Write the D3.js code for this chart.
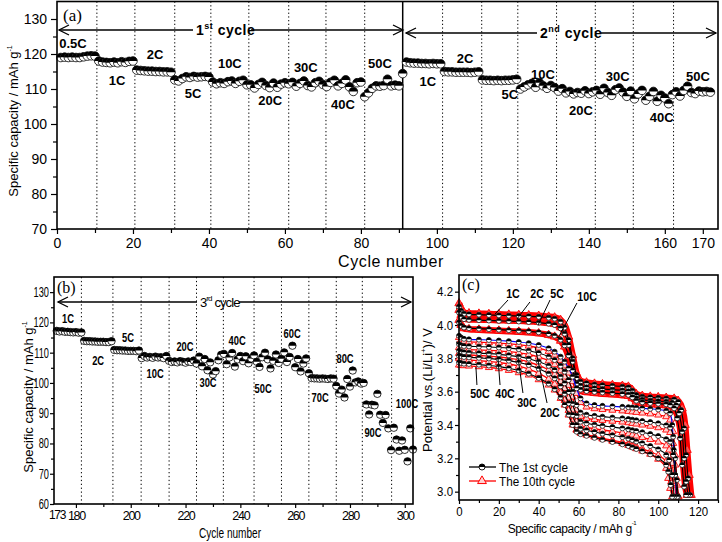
<!DOCTYPE html>
<html><head><meta charset="utf-8">
<script src="https://cdn.jsdelivr.net/npm/d3@7"></script>
<style>body{margin:0;background:#fff}svg{display:block}</style>
</head><body><svg width="722" height="542"></svg>
<script>
// ---------------- DATA ----------------
// Panel (a): capacity per cycle, 1st run (cycles 1..91) and 2nd run (cycles 92..172)
const capacityA1 = [
119.0,119.1,119.0,119.1,119.0,119.0,119.2,119.4,119.5,119.4,
118.0,117.7,117.6,117.5,117.7,117.5,117.8,117.6,117.9,118.0,
115.4,115.3,115.2,115.1,115.1,115.0,115.0,114.9,114.9,114.8,
112.6,112.3,113.0,113.5,113.3,113.6,113.4,113.5,113.6,113.4,
112.0,111.5,111.8,111.6,112.1,112.3,111.6,112.2,112.5,111.2,
111.2,110.3,111.3,111.9,111.0,110.4,111.7,110.5,111.4,111.8,
111.5,111.9,110.8,111.6,112.3,111.0,110.6,111.8,112.2,111.3,
110.7,111.9,112.5,110.9,111.6,112.6,110.6,109.3,111.8,112.0,
107.8,108.9,110.2,110.9,110.8,111.0,112.8,110.9,111.1,110.9,
114.4];
const capacityA2 = [
117.7,117.5,117.4,117.4,117.3,117.3,117.2,117.3,117.2,117.2,
115.0,114.9,114.9,114.8,114.8,114.8,114.8,114.7,114.8,114.9,
112.6,112.5,112.5,112.4,112.5,112.4,112.5,112.5,112.6,112.8,
110.0,110.6,111.2,111.6,110.5,111.8,110.9,110.2,111.0,110.4,
109.4,110.1,108.9,109.3,108.6,109.0,108.8,109.5,108.7,109.2,
109.6,108.5,110.2,109.0,108.2,109.8,110.3,109.1,107.9,109.4,
107.2,108.6,109.6,106.8,107.9,109.3,106.5,108.2,107.4,105.8,
108.4,109.2,108.0,109.6,110.8,109.0,108.7,109.4,109.2,109.3,109.1];
const startA1 = 1, startA2 = 92;
const ratesA = ["0.5C","1C","2C","5C","10C","20C","30C","40C","50C","1C","2C","5C","10C","20C","30C","40C","50C"];
const dividersA = [10.5,20.5,31,40.5,50.5,61,70.8,81,101.5,111.8,121.3,131.5,141.7,151.7,162.3];
const cycleBreakA = 91;
const xTicksA = [0,20,40,60,80,100,120,140,160,170];
const yTicksA = [70,80,90,100,110,120,130];

// Panel (b): cycles 173..303
const capacityB = [
117.2,117.0,117.1,116.9,116.9,116.8,116.7,116.8,116.6,116.7,
113.9,113.8,113.8,113.7,113.7,113.6,113.6,113.6,113.5,113.5,113.8,
110.9,110.8,110.8,110.7,110.7,110.6,110.6,110.6,110.5,110.7,
108.2,108.9,108.4,108.6,108.3,108.7,108.4,108.5,108.2,108.9,
107.3,106.9,107.1,106.8,107.2,107.0,106.7,107.1,106.9,107.4,
106.4,108.7,105.5,107.9,104.2,106.8,102.8,103.9,107.5,109.3,
109.6,106.2,108.4,109.9,105.4,107.8,108.9,107.2,108.8,106.5,108.1,
109.1,107.0,105.3,108.5,110.0,107.8,104.8,107.3,109.4,106.6,
108.0,110.1,106.9,108.6,112.3,105.2,107.9,103.8,106.4,108.1,
103.2,101.6,101.5,101.5,101.4,101.5,101.4,101.3,101.5,101.4,
99.0,96.5,97.8,95.2,101.3,98.8,104.1,100.2,100.5,99.8,
100.0,92.9,89.6,92.8,92.6,96.4,89.5,86.8,89.4,85.0,
77.8,85.2,81.3,77.6,81.0,77.9,74.1,85.0,78.0];
const startB = 173;
const ratesB = ["1C","2C","5C","10C","20C","30C","40C","50C","60C","70C","80C","90C","100C"];
const dividersB = [182,193.5,203.8,214,224,233.8,245,255,265,275,284.5,295.2];
const xTicksB = [180,200,220,240,260,280,300];
const yTicksB = [60,70,80,90,100,110,120,130];

// Panel (c): discharge curves, capacity grid + voltages (1st and 10th cycle), plus end tails [cap, V]
const capGrid = [0,1,2.5,5,10,15,20,25,30,35,40,45,48,51,53,55,57,59,61,64,68,72,77,82,85,87,89,92,96,100,104];
const v1C_1  = [4.11,4.085,4.068,4.064,4.062,4.060,4.058,4.056,4.054,4.052,4.049,4.044,4.038,4.020,3.985,3.910,3.800,3.700,3.660,3.650,3.643,3.639,3.635,3.630,3.625,3.605,3.580,3.570,3.566,3.563,3.559];
const t1C_1  = [[108,3.553],[110,3.538],[111.5,3.49],[113,3.38],[114,3.22],[115,3.08],[116,2.98]];
const v1C_10 = [4.13,4.10,4.075,4.070,4.068,4.066,4.064,4.062,4.060,4.058,4.055,4.050,4.045,4.030,4.000,3.930,3.820,3.710,3.665,3.655,3.648,3.644,3.640,3.635,3.630,3.610,3.585,3.575,3.570,3.567,3.563];
const t1C_10 = [[108,3.558],[110,3.545],[112,3.50],[113.5,3.40],[114.5,3.25],[115.5,3.10],[116.5,2.98]];
const v2C_1  = [4.075,4.05,4.035,4.031,4.029,4.027,4.025,4.023,4.021,4.018,4.014,4.008,4.000,3.980,3.948,3.880,3.780,3.682,3.636,3.626,3.620,3.616,3.612,3.607,3.602,3.584,3.561,3.551,3.546,3.543,3.539];
const t2C_1  = [[107,3.533],[109,3.518],[110.5,3.47],[112,3.36],[113,3.20],[114,3.06],[115,2.98]];
const v2C_10 = [4.09,4.06,4.04,4.035,4.033,4.031,4.029,4.027,4.025,4.022,4.018,4.012,4.005,3.985,3.955,3.890,3.790,3.690,3.640,3.630,3.624,3.620,3.616,3.611,3.606,3.588,3.565,3.555,3.550,3.547,3.543];
const t2C_10 = [[107,3.538],[109,3.525],[111,3.48],[112.5,3.37],[113.5,3.21],[114.5,3.07],[115.5,2.98]];
const v5C_1  = [4.015,3.995,3.985,3.981,3.978,3.975,3.972,3.969,3.966,3.962,3.956,3.946,3.936,3.912,3.878,3.818,3.728,3.648,3.612,3.604,3.599,3.595,3.591,3.586,3.581,3.566,3.546,3.536,3.532,3.528,3.524];
const t5C_1  = [[106,3.518],[108,3.50],[109.5,3.44],[111,3.32],[112,3.16],[113,3.03],[114,2.98]];
const v5C_10 = [4.03,4.00,3.98,3.975,3.972,3.969,3.966,3.963,3.960,3.956,3.950,3.940,3.930,3.905,3.870,3.810,3.720,3.640,3.605,3.597,3.592,3.588,3.584,3.579,3.574,3.560,3.540,3.530,3.526,3.522,3.518];
const t5C_10 = [[106,3.512],[108,3.495],[110,3.44],[111.5,3.33],[112.5,3.17],[113.5,3.04],[114.5,2.98]];
const v10C_1  = [3.935,3.925,3.917,3.914,3.912,3.910,3.907,3.903,3.898,3.891,3.880,3.860,3.840,3.810,3.780,3.740,3.690,3.620,3.560,3.530,3.520,3.515,3.512,3.509,3.507,3.505,3.503,3.500,3.497,3.493,3.485];
const t10C_1  = [[106,3.47],[107,3.40],[107.8,3.25],[108.5,3.10],[109.2,2.97]];
const v10C_10 = [3.925,3.91,3.902,3.899,3.897,3.894,3.891,3.887,3.882,3.874,3.862,3.842,3.820,3.788,3.755,3.712,3.660,3.590,3.535,3.508,3.498,3.493,3.489,3.485,3.482,3.479,3.476,3.472,3.467,3.460,3.450];
const t10C_10 = [[106,3.43],[107.5,3.36],[108.5,3.22],[109.3,3.08],[110,2.97]];
const v20C_1  = [3.885,3.878,3.874,3.872,3.870,3.868,3.865,3.861,3.855,3.846,3.832,3.810,3.790,3.755,3.720,3.670,3.600,3.520,3.475,3.462,3.455,3.450,3.445,3.440,3.436,3.432,3.428,3.424,3.418,3.410,3.398];
const t20C_1  = [[106,3.385],[107.5,3.33],[108.5,3.20],[109.3,3.07],[110,2.97]];
const v20C_10 = [3.865,3.858,3.854,3.852,3.850,3.848,3.845,3.840,3.833,3.823,3.808,3.785,3.762,3.725,3.688,3.638,3.568,3.490,3.452,3.440,3.433,3.428,3.423,3.418,3.414,3.410,3.406,3.400,3.393,3.384,3.370];
const t20C_10 = [[106,3.355],[107.5,3.29],[108.5,3.16],[109.5,3.04],[110.2,2.97]];
const v30C_1  = [3.845,3.840,3.836,3.834,3.831,3.828,3.824,3.818,3.810,3.798,3.780,3.755,3.730,3.690,3.650,3.598,3.528,3.455,3.420,3.410,3.402,3.395,3.388,3.380,3.374,3.369,3.364,3.356,3.346,3.334,3.315];
const t30C_1  = [[106,3.30],[107.5,3.22],[108.5,3.10],[109.5,2.97]];
const v30C_10 = [3.83,3.826,3.822,3.820,3.817,3.813,3.808,3.801,3.792,3.778,3.758,3.730,3.703,3.660,3.618,3.562,3.490,3.420,3.395,3.386,3.378,3.370,3.362,3.353,3.346,3.340,3.334,3.325,3.313,3.298,3.275];
const t30C_10 = [[105.5,3.25],[107,3.17],[108.2,3.05],[109,2.97]];
const v40C_1  = [3.815,3.812,3.808,3.806,3.803,3.799,3.794,3.786,3.775,3.760,3.738,3.708,3.680,3.632,3.588,3.530,3.460,3.400,3.378,3.368,3.358,3.348,3.338,3.327,3.318,3.310,3.301,3.290,3.274,3.254,3.220];
const t40C_1  = [[105.5,3.19],[107,3.10],[108,2.97]];
const v40C_10 = [3.80,3.797,3.793,3.790,3.786,3.781,3.775,3.766,3.753,3.735,3.710,3.676,3.645,3.595,3.548,3.488,3.420,3.370,3.352,3.342,3.331,3.320,3.309,3.297,3.288,3.279,3.270,3.257,3.240,3.218,3.180];
const t40C_10 = [[105,3.15],[106.5,3.06],[107.5,2.97]];
const v50C_1  = [3.775,3.772,3.768,3.766,3.762,3.757,3.750,3.740,3.727,3.708,3.682,3.648,3.615,3.565,3.520,3.462,3.400,3.360,3.345,3.335,3.323,3.311,3.298,3.284,3.274,3.265,3.256,3.242,3.224,3.200,3.160];
const t50C_1  = [[105,3.12],[106.2,3.04],[107,2.97]];
const v50C_10 = [3.760,3.758,3.756,3.754,3.750,3.745,3.738,3.728,3.714,3.700,3.672,3.640,3.610,3.560,3.520,3.460,3.400,3.370,3.352,3.340,3.328,3.316,3.303,3.290,3.278,3.268,3.258,3.244,3.225,3.195,3.140];
const t50C_10 = [[105,3.08],[106,3.02],[107,2.97]];
const ratesC = ["1C","2C","5C","10C","20C","30C","40C","50C"];
const xTicksC = [0,20,40,60,80,100,120];
const yTicksC = [3.0,3.2,3.4,3.6,3.8,4.0,4.2];

// ---------------- DRAWING ----------------
const FONT = '"Liberation Sans", Arial, Helvetica, sans-serif';
const SERIF = '"Liberation Serif", "Times New Roman", serif';
const svg = d3.select("svg").attr("font-family", FONT);

function squeeze(sel, f) {
  sel.each(function () {
    const L = this.getComputedTextLength();
    d3.select(this).attr("textLength", L * f).attr("lengthAdjust", "spacingAndGlyphs");
  });
}
function cleanAxis(g) { g.select(".domain").remove(); g.selectAll("line").attr("stroke", "#000").attr("stroke-width", 1.2); }

function halfMarkers(g, data, xf, yf, r, color, sw) {
  const s = g.selectAll(null).data(data).join("g")
    .attr("transform", d => `translate(${xf(d)},${yf(d)})`);
  s.append("circle").attr("r", r).attr("fill", "#fff").attr("stroke", color).attr("stroke-width", sw);
  s.append("path").attr("d", `M${-r},0A${r},${r} 0 0 1 ${r},0Z`).attr("fill", color);
}
function arrowLine(g, x1, x2, y, headLeft, headRight) {
  g.append("line").attr("x1", x1).attr("x2", x2).attr("y1", y).attr("y2", y).attr("stroke", "#000").attr("stroke-width", 1.3);
  if (headLeft) g.append("path").attr("d", `M${x1 + 10},${y - 5}L${x1},${y}L${x1 + 10},${y + 5}`).attr("fill", "none").attr("stroke", "#000").attr("stroke-width", 1.3);
  if (headRight) g.append("path").attr("d", `M${x2 - 10},${y - 5}L${x2},${y}L${x2 - 10},${y + 5}`).attr("fill", "none").attr("stroke", "#000").attr("stroke-width", 1.3);
}
function supText(g, x, y, parts, attrs) {
  const t = g.append("text").attr("x", x).attr("y", y);
  Object.entries(attrs || {}).forEach(([k, v]) => t.attr(k, v));
  parts.forEach(p => {
    const s = t.append("tspan").text(p.t);
    if (p.sup) s.attr("dy", p.dy || -6).attr("font-size", p.fs || 9);
    if (p.back) s.attr("dy", p.back);
  });
  return t;
}

// ===== Panel (a) =====
const xA = d3.scaleLinear().domain([0, 174]).range([57, 718]);
const yA = d3.scaleLinear().domain([70, 135]).range([229, 1.5]);
const gA = svg.append("g");
gA.append("g").attr("transform", "translate(0,229)")
  .call(d3.axisBottom(xA).tickValues([10,30,50,70,90,110,130,150]).tickSize(4).tickFormat("")).call(cleanAxis);
gA.append("g").attr("transform", "translate(0,229)")
  .call(d3.axisBottom(xA).tickValues(xTicksA).tickSize(5).tickPadding(4)).call(cleanAxis)
  .selectAll("text").attr("font-size", 14).attr("font-family", FONT).attr("fill", "#000");
gA.append("g").attr("transform", "translate(57,0)")
  .call(d3.axisLeft(yA).tickValues([75,85,95,105,115,125]).tickSize(4).tickFormat("")).call(cleanAxis);
gA.append("g").attr("transform", "translate(57,0)")
  .call(d3.axisLeft(yA).tickValues(yTicksA).tickSize(6).tickPadding(4)).call(cleanAxis)
  .selectAll("text").attr("font-size", 14).attr("font-family", FONT).attr("fill", "#000");
gA.selectAll(null).data(dividersA).join("line")
  .attr("x1", d => xA(d)).attr("x2", d => xA(d)).attr("y1", yA(135)).attr("y2", yA(70))
  .attr("stroke", "#000").attr("stroke-width", 1).attr("stroke-dasharray", "1.3,2.4");
gA.append("line").attr("x1", xA(cycleBreakA)).attr("x2", xA(cycleBreakA)).attr("y1", yA(135)).attr("y2", yA(70))
  .attr("stroke", "#000").attr("stroke-width", 1.5);
const ptsA = capacityA1.map((v, i) => ({c: startA1 + i, v})).concat(capacityA2.map((v, i) => ({c: startA2 + i, v})));
halfMarkers(gA.append("g"), ptsA, d => xA(d.c), d => yA(d.v), 4.3, "#000", 0.8);
gA.append("rect").attr("x", 57).attr("y", 1.5).attr("width", 661).attr("height", 227.5)
  .attr("fill", "none").attr("stroke", "#000").attr("stroke-width", 1.6);
const labelPosA = [[4.2,123.1],[15.8,112.6],[25.8,120],[35.8,108.9],[45.5,117.4],[56.1,106.9],[65.5,116.3],[75.3,105.7],[85,117.4],
  [97.6,112.3],[107.4,118.9],[119.2,108.6],[127.9,114.3],[137.9,104],[147.6,113.7],[159.2,102],[168.7,113.7]];
gA.selectAll(null).data(ratesA).join("text")
  .attr("x", (d, i) => xA(labelPosA[i][0])).attr("y", (d, i) => yA(labelPosA[i][1]) + 5)
  .attr("text-anchor", "middle").attr("font-weight", "bold").attr("font-size", 13).text(d => d);
arrowLine(gA, 59, 193, 30, true, false);
arrowLine(gA, 251, 403, 30, false, true);
supText(gA, 196, 35, [{t: "1"}, {t: "st", sup: true}, {t: " cycle", back: 6}], {"font-size": 14, "font-weight": "bold", "letter-spacing": 0.5});
arrowLine(gA, 406, 537, 33, true, false);
arrowLine(gA, 601, 716, 33, false, true);
supText(gA, 540, 38, [{t: "2"}, {t: "nd", sup: true}, {t: " cycle", back: 6}], {"font-size": 14, "font-weight": "bold", "letter-spacing": 0.5});
gA.append("text").attr("x", 63).attr("y", 21).attr("font-family", SERIF).attr("font-size", 17).text("(a)");
supText(gA, 0, 0, [{t: "Specific capacity / mAh g"}, {t: "-1", sup: true, fs: 7}], {"font-size": 13, "text-anchor": "middle", transform: "translate(18,121) rotate(-90)"});
gA.append("text").attr("x", 391).attr("y", 267).attr("text-anchor", "middle").attr("font-size", 16).attr("letter-spacing", 0.6).text("Cycle number");

// ===== Panel (b) =====
const xB = d3.scaleLinear().domain([172, 303]).range([54, 413]);
const yB = d3.scaleLinear().domain([60, 135]).range([504, 277]);
const gB = svg.append("g");
gB.append("g").attr("transform", "translate(0,504)")
  .call(d3.axisBottom(xB).tickValues([190,210,230,250,270,290]).tickSize(3).tickFormat("")).call(cleanAxis);
const axBx = gB.append("g").attr("transform", "translate(0,504)")
  .call(d3.axisBottom(xB).tickValues(xTicksB).tickSize(4).tickPadding(3)).call(cleanAxis);
axBx.selectAll("text").attr("font-size", 12.5).attr("font-family", FONT).attr("fill", "#000").attr("letter-spacing", -1.3);
gB.append("text").attr("x", 57).attr("y", 519).attr("text-anchor", "middle").attr("font-size", 12)
  .attr("letter-spacing", -1.3).text("173");
gB.append("g").attr("transform", "translate(54,0)")
  .call(d3.axisLeft(yB).tickValues([65,75,85,95,105,115,125]).tickSize(3).tickFormat("")).call(cleanAxis);
gB.append("g").attr("transform", "translate(54,0)")
  .call(d3.axisLeft(yB).tickValues(yTicksB).tickSize(4).tickPadding(1)).call(cleanAxis)
  .selectAll("text").attr("font-size", 14).attr("font-family", FONT).attr("fill", "#000").call(squeeze, 0.66);
gB.selectAll(null).data(dividersB).join("line")
  .attr("x1", d => xB(d)).attr("x2", d => xB(d)).attr("y1", yB(135)).attr("y2", yB(60))
  .attr("stroke", "#000").attr("stroke-width", 1).attr("stroke-dasharray", "1.3,2.6");
const ptsB = capacityB.map((v, i) => ({c: startB + i, v}));
halfMarkers(gB.append("g"), ptsB, d => xB(d.c), d => yB(d.v), 3.7, "#000", 0.8);
gB.append("rect").attr("x", 54).attr("y", 277).attr("width", 359).attr("height", 227)
  .attr("fill", "none").attr("stroke", "#000").attr("stroke-width", 1.6);
const labelPosB = [[177.1,121.4],[188.1,107.5],[199,115.1],[208.9,103.2],[219.8,112.1],[228.2,100.3],[238.8,114.1],[248.3,98.3],[258.9,116.4],[269.1,95.3],[278.2,108.2],[288.4,83.8],[300.8,93.3]];
gB.selectAll(null).data(ratesB).join("text")
  .attr("x", (d, i) => xB(labelPosB[i][0])).attr("y", (d, i) => yB(labelPosB[i][1]) + 5)
  .attr("text-anchor", "middle").attr("font-weight", "bold").attr("font-size", 13).text(d => d).call(squeeze, 0.72);
arrowLine(gB, 58, 197, 302, true, false);
arrowLine(gB, 239, 411, 302, false, true);
supText(gB, 200, 307, [{t: "3"}, {t: "rd", sup: true, fs: 8}, {t: " cycle", back: 6}], {"font-size": 13, "letter-spacing": -0.9});
gB.append("text").attr("x", 57).attr("y", 293).attr("font-family", SERIF).attr("font-size", 16).text("(b)");
supText(gB, 0, 0, [{t: "Specific capacity / mAh g"}, {t: "-1", sup: true, fs: 7}], {"font-size": 13, "text-anchor": "middle", transform: "translate(33,397) rotate(-90)"});
gB.append("text").attr("x", 230).attr("y", 538).attr("text-anchor", "middle").attr("font-size", 14).text("Cycle number").call(squeeze, 0.72);

// ===== Panel (c) =====
const xC = d3.scaleLinear().domain([0, 130]).range([459, 718]);
const yC = d3.scaleLinear().domain([2.95, 4.3]).range([500, 275]);
const gC = svg.append("g");
gC.append("g").attr("transform", "translate(0,500)")
  .call(d3.axisBottom(xC).tickValues([10,30,50,70,90,110,130]).tickSize(3).tickFormat("")).call(cleanAxis);
gC.append("g").attr("transform", "translate(0,500)")
  .call(d3.axisBottom(xC).tickValues(xTicksC).tickSize(4).tickPadding(3)).call(cleanAxis)
  .selectAll("text").attr("font-size", 13).attr("font-family", FONT).attr("fill", "#000").call(squeeze, 0.88);
gC.append("g").attr("transform", "translate(459,0)")
  .call(d3.axisLeft(yC).tickValues([3.1,3.3,3.5,3.7,3.9,4.1]).tickSize(3).tickFormat("")).call(cleanAxis);
gC.append("g").attr("transform", "translate(459,0)")
  .call(d3.axisLeft(yC).tickValues(yTicksC).tickSize(4).tickPadding(2).tickFormat(d3.format(".1f"))).call(cleanAxis)
  .selectAll("text").attr("font-size", 13).attr("font-family", FONT).attr("fill", "#000").call(squeeze, 0.88);

const curvesC = [
  {r: "1C", cyc: 10, v: v1C_10, t: t1C_10}, {r: "2C", cyc: 10, v: v2C_10, t: t2C_10}, {r: "5C", cyc: 10, v: v5C_10, t: t5C_10},
  {r: "10C", cyc: 10, v: v10C_10, t: t10C_10}, {r: "20C", cyc: 10, v: v20C_10, t: t20C_10}, {r: "30C", cyc: 10, v: v30C_10, t: t30C_10},
  {r: "40C", cyc: 10, v: v40C_10, t: t40C_10}, {r: "50C", cyc: 10, v: v50C_10, t: t50C_10},
  {r: "1C", cyc: 1, v: v1C_1, t: t1C_1}, {r: "2C", cyc: 1, v: v2C_1, t: t2C_1}, {r: "5C", cyc: 1, v: v5C_1, t: t5C_1},
  {r: "10C", cyc: 1, v: v10C_1, t: t10C_1}, {r: "20C", cyc: 1, v: v20C_1, t: t20C_1}, {r: "30C", cyc: 1, v: v30C_1, t: t30C_1},
  {r: "40C", cyc: 1, v: v40C_1, t: t40C_1}, {r: "50C", cyc: 1, v: v50C_1, t: t50C_1}
].map(c => ({...c, pts: capGrid.map((x, i) => [x, c.v[i]]).concat(c.t)}));
const lineC = d3.line().x(d => xC(d[0])).y(d => yC(d[1])).curve(d3.curveMonotoneX);
const highRate = r => ["1C", "2C", "5C"].includes(r);
curvesC.filter(c => c.cyc === 10).forEach(c => {
  gC.append("path").attr("d", lineC(c.pts)).attr("fill", "none").attr("stroke", "#ff0000")
    .attr("stroke-width", highRate(c.r) ? 6.5 : 1.3);
});
curvesC.filter(c => c.cyc === 10).forEach(c => {
  gC.append("g").selectAll(null).data(c.pts).join("path")
    .attr("transform", d => `translate(${xC(d[0])},${yC(d[1])})`)
    .attr("d", d3.symbol(d3.symbolTriangle, highRate(c.r) ? 30 : 22))
    .attr("fill", highRate(c.r) ? "#ff5050" : "#ffd0d0").attr("stroke", "#ff0000").attr("stroke-width", 0.9);
});
curvesC.filter(c => c.cyc === 1).forEach(c => {
  gC.append("path").attr("d", lineC(c.pts)).attr("fill", "none").attr("stroke", c.r === "10C" ? "#0000ff" : "#000")
    .attr("stroke-width", 1.1);
  halfMarkers(gC.append("g"), c.pts, d => xC(d[0]), d => yC(d[1]), 2.5, "#000", 0.7);
});
gC.append("rect").attr("x", 459).attr("y", 275).attr("width", 259).attr("height", 225)
  .attr("fill", "none").attr("stroke", "#000").attr("stroke-width", 1.6);
const labelPosC = [[27.1,4.192],[39.2,4.192],[49.2,4.192],[64.3,4.174],[45.7,3.478],[34.1,3.538],[23.1,3.592],[10.5,3.592]];
const leaderC = [[[24.6,4.15],[18.1,4.066]],[[35.6,4.138],[29.1,4.036]],[[45.7,4.15],[39.7,4.0]],[[59.2,4.132],[49.7,3.922]],
  [[44.2,3.532],[38.2,3.868]],[[32.1,3.592],[29.6,3.808]],[[20.6,3.64],[19.6,3.796]],[[9.0,3.64],[8.5,3.748]]];
gC.selectAll(null).data(leaderC).join("line")
  .attr("x1", d => xC(d[0][0])).attr("y1", d => yC(d[0][1])).attr("x2", d => xC(d[1][0])).attr("y2", d => yC(d[1][1]))
  .attr("stroke", "#000").attr("stroke-width", 1);
gC.selectAll(null).data(ratesC).join("text")
  .attr("x", (d, i) => xC(labelPosC[i][0])).attr("y", (d, i) => yC(labelPosC[i][1]) + 5)
  .attr("text-anchor", "middle").attr("font-weight", "bold").attr("font-size", 13).text(d => d).call(squeeze, 0.82);
gC.append("line").attr("x1", 469).attr("x2", 496).attr("y1", 467).attr("y2", 467).attr("stroke", "#000").attr("stroke-width", 1.3);
halfMarkers(gC.append("g"), [0], () => 482, () => 467, 3, "#000", 0.9);
gC.append("text").attr("x", 499).attr("y", 472).attr("font-size", 13).text("The 1st cycle").call(squeeze, 0.9);
gC.append("line").attr("x1", 469).attr("x2", 496).attr("y1", 481).attr("y2", 481).attr("stroke", "#ff0000").attr("stroke-width", 1.3);
gC.append("path").attr("transform", "translate(482,481)").attr("d", d3.symbol(d3.symbolTriangle, 34))
  .attr("fill", "#ffd0d0").attr("stroke", "#ff0000").attr("stroke-width", 1);
gC.append("text").attr("x", 499).attr("y", 486).attr("font-size", 13).text("The 10th cycle").call(squeeze, 0.9);
gC.append("text").attr("x", 462).attr("y", 290).attr("font-family", SERIF).attr("font-size", 16).text("(c)");
supText(gC, 0, 0, [{t: "Potential vs.(Li/Li"}, {t: "+", sup: true, fs: 8}, {t: ")/ V", back: 6}], {"font-size": 13, "text-anchor": "middle", transform: "translate(432,390) rotate(-90)"});
supText(gC, 572, 533, [{t: "Specific capacity / mAh g"}, {t: "-1", sup: true, fs: 6, dy: -8}], {"font-size": 12, "letter-spacing": -0.4, "text-anchor": "middle"});
</script></body></html>
